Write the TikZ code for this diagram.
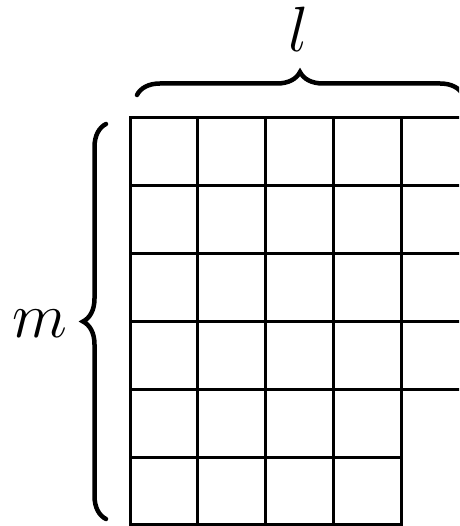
\RequirePackage{fix-cm}
\documentclass[tikz,border=0pt]{standalone}
\usetikzlibrary{decorations.pathreplacing}
\begin{document}
\begin{tikzpicture}[x=1pt,y=-1pt,
  gridline/.style={line width=3pt,line cap=rect},
  bracestyle/.style={line width=4.5pt,line cap=round,
    decorate,decoration={brace,amplitude=23pt}},
  lbl/.style={inner sep=0pt,font=\fontsize{64}{70}\selectfont}]
\useasboundingbox (0,0) rectangle (459,526);
\clip (0,0) rectangle (459,526);
\def\cs{67.8}
% horizontal lines
\foreach \i in {0,...,4}
  \draw[gridline] (130,118+\i*\cs) -- (130+5*\cs,118+\i*\cs);
\foreach \i in {5,6}
  \draw[gridline] (130,118+\i*\cs) -- (130+4*\cs,118+\i*\cs);
% vertical lines
\foreach \j in {0,...,4}
  \draw[gridline] (130+\j*\cs,118) -- (130+\j*\cs,118+6*\cs);
% brace end points
\coordinate (hb1) at (137,95);
\coordinate (hb2) at (463,95);
\coordinate (vb1) at (106,519);
\coordinate (vb2) at (106,124);
\draw[bracestyle] (hb1) -- (hb2);
\draw[bracestyle] (vb1) -- (vb2);
% labels
\node[lbl,anchor=base] (l) at (299,51.5) {$l$};
\node[lbl,anchor=base] (m) at (40,337) {$m$};
\end{tikzpicture}
\end{document}
